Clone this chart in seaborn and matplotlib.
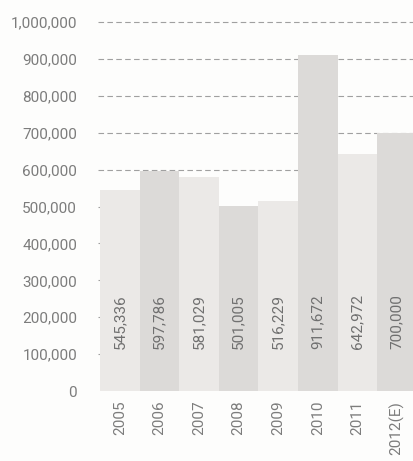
import matplotlib
matplotlib.use("Agg")
import matplotlib.pyplot as plt
import seaborn as sns
import pandas as pd

years = ["2005", "2006", "2007", "2008", "2009", "2010", "2011", "2012(E)"]
values = [545336, 597786, 581029, 501005, 516229, 911672, 642972, 700000]
bar_colors = ["#ebe9e7", "#dcdad8"] * 4
y_ticks = [0, 100000, 200000, 300000, 400000, 500000, 600000, 700000, 800000, 900000, 1000000]

sns.set_theme(style="white")
plt.rcParams["font.family"] = ["Roboto", "DejaVu Sans"]

df = pd.DataFrame({"year": years, "value": values})

fig = plt.figure(figsize=(4.14, 4.61), dpi=100, facecolor="#fdfdfc")
ax = fig.add_axes([100 / 414, 70 / 461, 1 - 100 / 414, 0.8])
ax.set_facecolor("#fdfdfc")

sns.barplot(data=df, x="year", y="value", hue="year", palette=bar_colors,
            width=1.0, legend=False, ax=ax, zorder=2, saturation=1,
            linewidth=0, edgecolor="none")

# dashed guides behind the bars
for t in y_ticks[1:]:
    ax.axhline(t, xmin=-0.006, color="#a0a0a0", lw=0.8, ls=(0, (5, 3)),
               zorder=1, clip_on=False)

for i, v in enumerate(values):
    ax.text(i, 115000, f"{v:,}", rotation=90, ha="center", va="bottom",
            fontsize=11, color="#707070", zorder=3)

ax.set_xlim(-0.5, 7.43)
ax.set_ylim(0, 1000000)
ax.set_yticks(y_ticks)
ax.set_yticklabels([f"{t:,}" for t in y_ticks], fontsize=11, color="#7c7c7c")
ax.set_xticks(range(len(years)))
ax.set_xticklabels(years, rotation=90, fontsize=11, color="#7c7c7c")
ax.tick_params(axis="both", length=0)
ax.tick_params(axis="y", pad=16.5)
ax.tick_params(axis="x", pad=7)
ax.set_xlabel("")
ax.set_ylabel("")
for s in ax.spines.values():
    s.set_visible(False)

fig.savefig("out.png", dpi=100, facecolor=fig.get_facecolor())
